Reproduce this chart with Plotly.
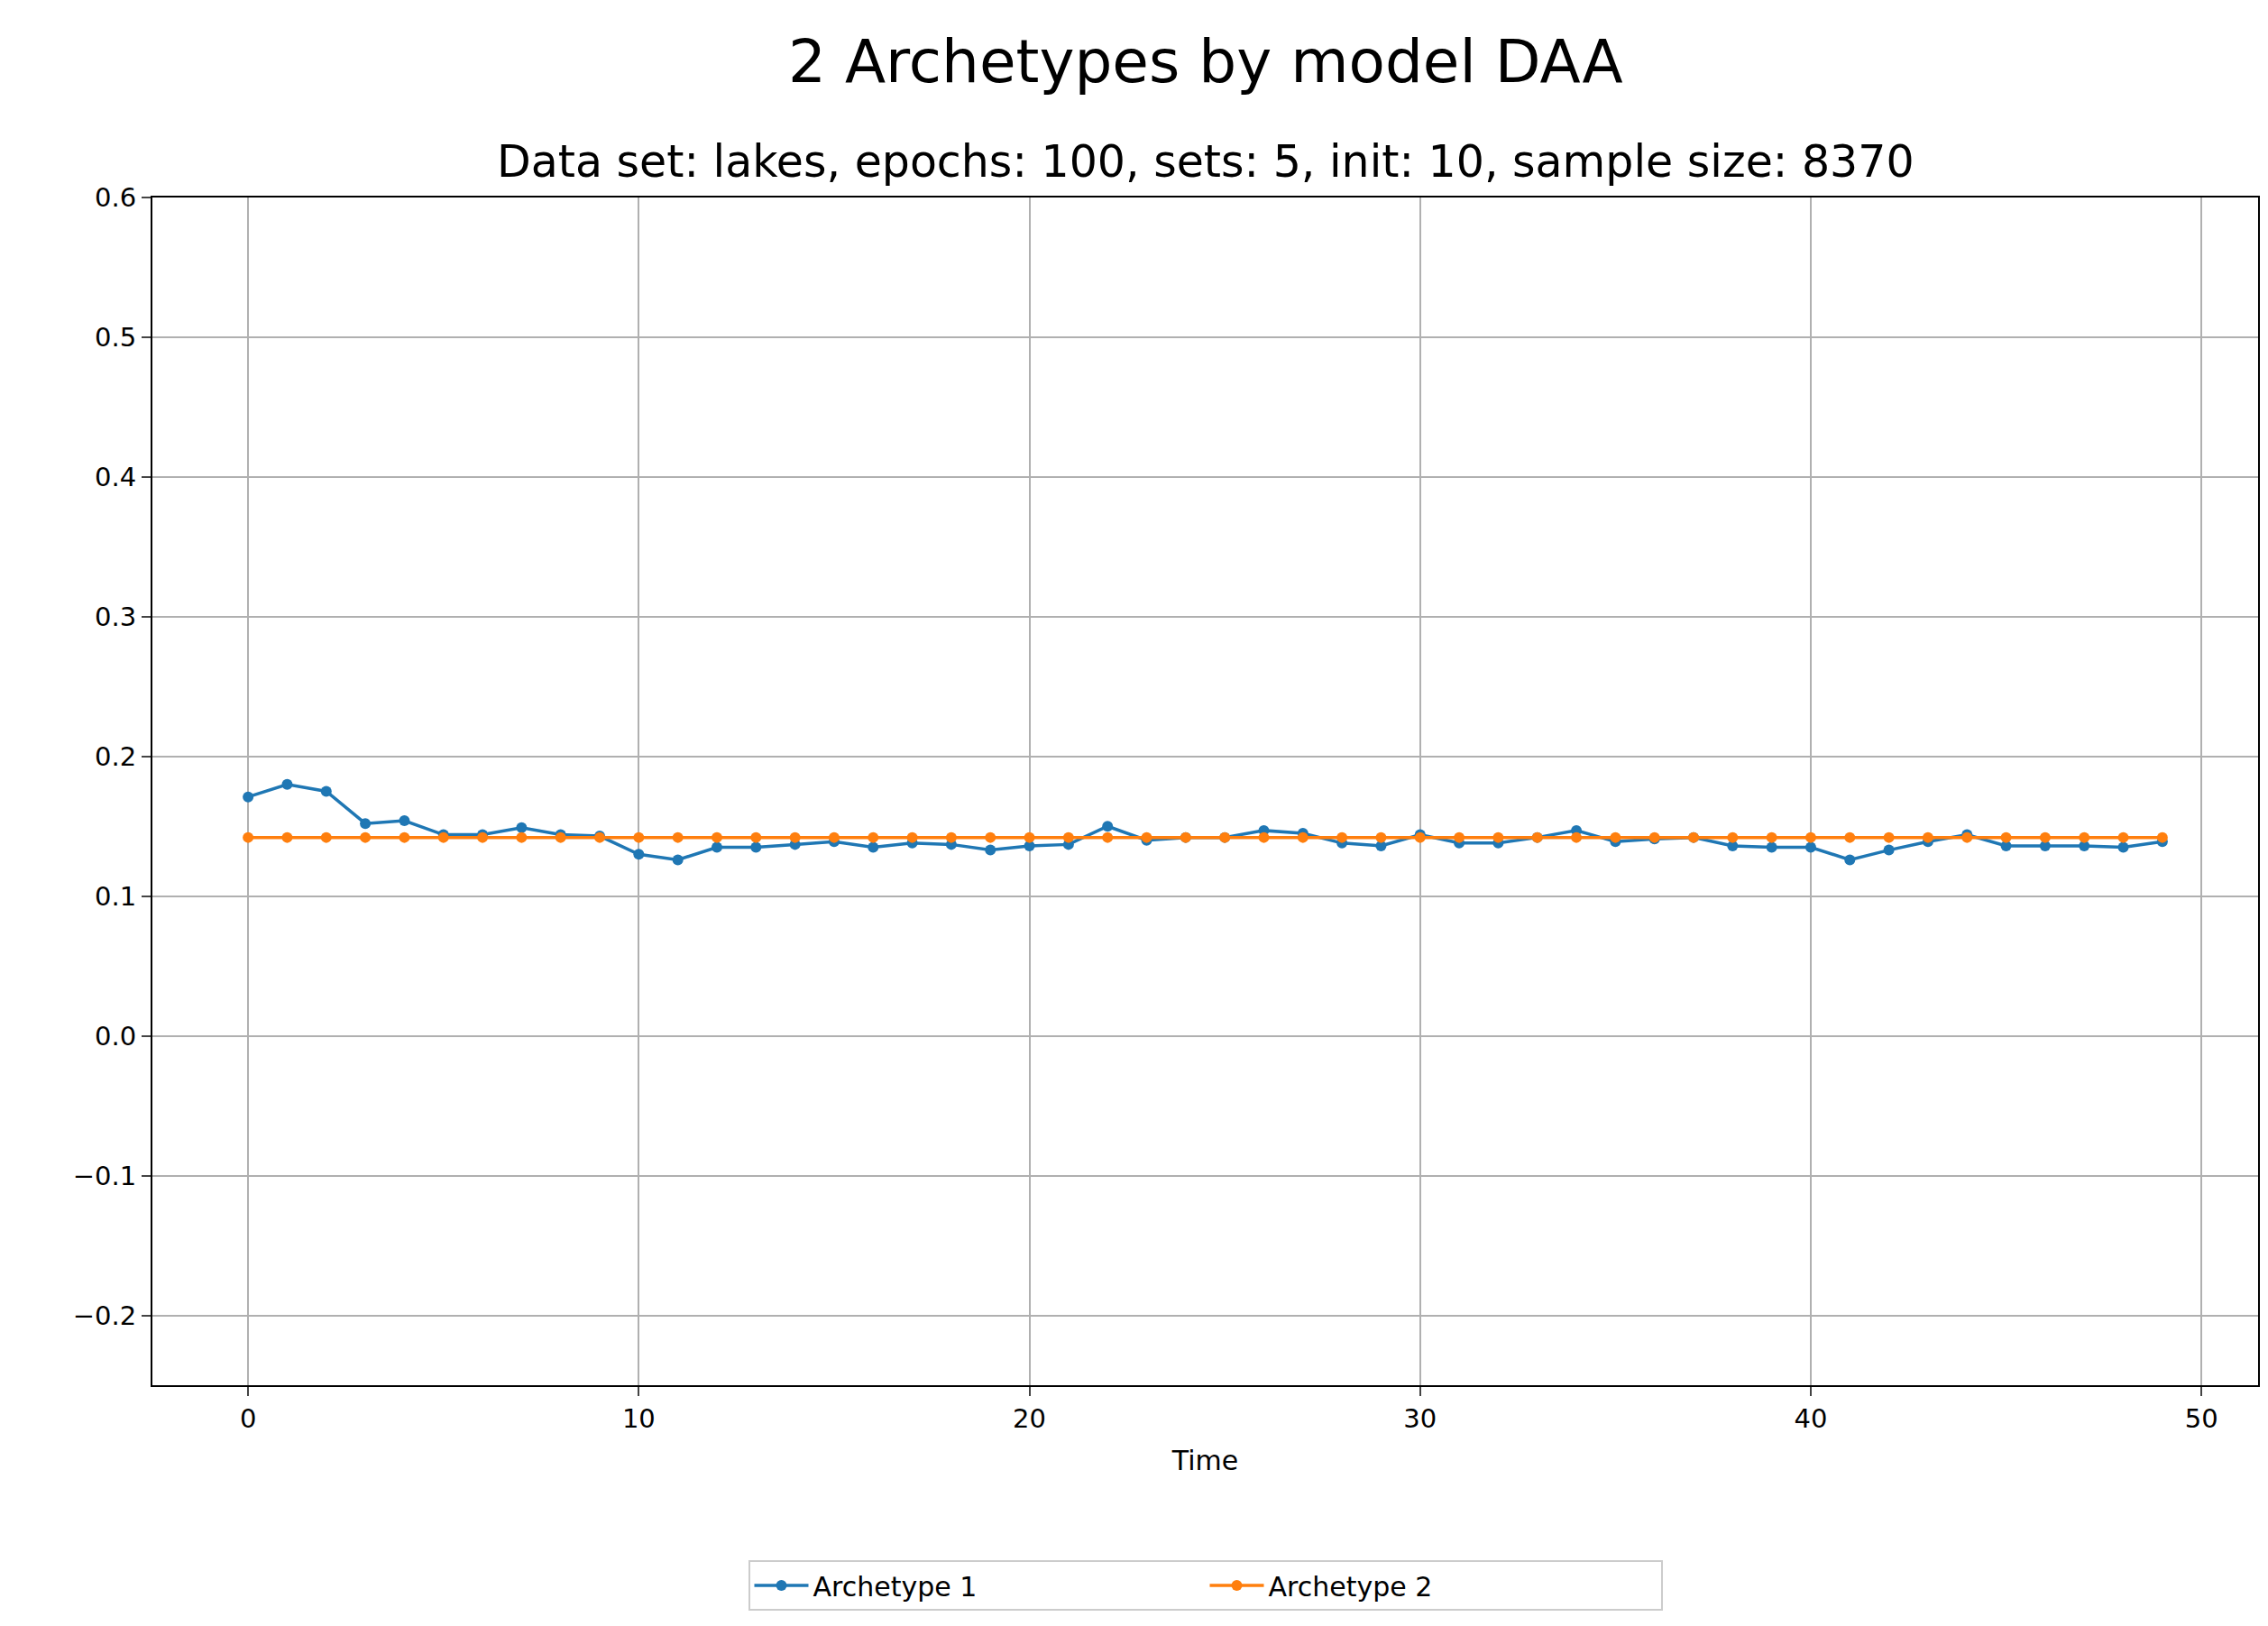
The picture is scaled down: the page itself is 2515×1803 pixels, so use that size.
import plotly.graph_objects as go

time = list(range(50))
arch1 = [0.171,0.180,0.175,0.152,0.154,0.144,0.144,0.149,0.144,0.143,
         0.130,0.126,0.135,0.135,0.137,0.139,0.135,0.138,0.137,0.133,
         0.136,0.137,0.150,0.140,0.142,0.142,0.147,0.145,0.138,0.136,
         0.144,0.138,0.138,0.142,0.147,0.139,0.141,0.142,0.136,0.135,
         0.135,0.126,0.133,0.139,0.144,0.136,0.136,0.136,0.135,0.139]
arch2 = [0.142]*50

W, H = 2515, 1803
L, R, T, B = 161, 2496, 211, 1528
PH = B - T
fig = go.Figure()
fig.add_trace(go.Scatter(x=time, y=arch1, mode="lines+markers", name="Archetype 1",
                         line=dict(color="#1f77b4", width=3.5), marker=dict(size=12, color="#1f77b4")))
fig.add_trace(go.Scatter(x=time, y=arch2, mode="lines+markers", name="Archetype 2",
                         line=dict(color="#ff7f0e", width=3.5), marker=dict(size=12, color="#ff7f0e")))
font = "DejaVu Sans"
fig.update_layout(
    width=W, height=H, paper_bgcolor="white", plot_bgcolor="white",
    margin=dict(l=L, r=W-R, t=T, b=H-B, autoexpand=False),
    font=dict(family=font, size=28, color="black"),
    showlegend=True,
    legend=dict(orientation="h", x=0.5, xanchor="center", xref="paper",
                y=1-1750/H, yanchor="middle", yref="container",
                bordercolor="#cccccc", borderwidth=2, font=dict(size=30),
                entrywidth=430, itemwidth=60),
)
fig.add_annotation(text="2 Archetypes by model DAA", xref="paper", yref="paper",
                   x=0.5, y=1+(T-60)/PH, showarrow=False, font=dict(size=66), yanchor="middle")
fig.add_annotation(text="Data set: lakes, epochs: 100, sets: 5, init: 10, sample size: 8370",
                   xref="paper", yref="paper", x=0.5, y=1+(T-172)/PH, showarrow=False,
                   font=dict(size=49), yanchor="middle")
axis = dict(showline=True, linecolor="black", linewidth=2, mirror=True, showgrid=True,
            gridcolor="#b0b0b0", gridwidth=2, ticks="outside", ticklen=10, tickwidth=2,
            zeroline=False, tickfont=dict(size=29))
fig.update_xaxes(range=[-2.45, 51.45], dtick=10, title=dict(text="Time", font=dict(size=30), standoff=20), **axis)
fig.update_yaxes(range=[-0.25, 0.6], dtick=0.1, tickformat=".1f", **axis)
fig.write_html("out.html")
